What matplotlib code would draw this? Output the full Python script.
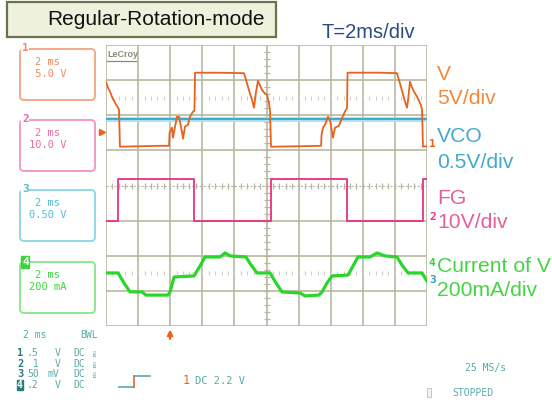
import matplotlib

matplotlib.use("Agg")
import matplotlib.pyplot as plt
import numpy as np
from matplotlib.patches import FancyBboxPatch, Rectangle

# Timebase / screen layout of the scope capture
T_PER_DIV = 2.0          # ms per division
N_XDIV, N_YDIV = 10, 8

# Channel 1: motor voltage V (5 V/div)
v_t = [0.00, 0.12, 0.25, 0.37, 0.56, 0.75, 0.81, 0.87, 2.12, 3.36, 3.93, 3.96, 4.11, 4.17,
       4.42, 4.55, 4.74, 4.80, 4.92, 5.11, 5.23, 5.42, 5.51, 5.55, 7.10, 8.60, 8.79, 8.97,
       9.10, 9.22, 9.35, 9.47, 9.60, 9.72, 9.85, 10.03, 10.16, 10.22, 10.28, 12.09, 13.40,
       13.43, 13.52, 13.65, 13.83, 13.96, 14.08, 14.14, 14.27, 14.39, 14.52, 14.64, 14.77,
       14.89, 15.02, 15.05, 17.07, 18.13, 18.32, 18.51, 18.63, 18.76, 18.82, 18.94, 19.07,
       19.19, 19.38, 19.50, 19.63, 19.69, 19.75, 20.00]
v_val = [9.33, 8.48, 7.91, 7.19, 6.34, 5.63, 5.34, 0.07, 0.14, 0.20, 0.20, 2.07, 2.78, 1.35,
         4.34, 4.34, 2.07, 1.21, 2.92, 3.21, 4.34, 5.06, 5.20, 10.61, 10.60, 10.54, 9.05, 7.62,
         6.77, 5.63, 7.91, 9.47, 8.76, 8.19, 7.76, 7.48, 6.20, 5.06, 0.07, 0.14, 0.20,
         1.78, 2.78, 3.21, 4.34, 3.78, 2.21, 1.35, 2.78, 2.92, 3.06, 3.78, 4.49,
         5.06, 5.63, 10.61, 10.61, 10.54, 9.05, 7.48, 6.48, 5.63, 6.77, 9.33, 8.48,
         7.91, 7.19, 6.62, 5.91, 5.34, 0.07, 0.14]

# Channel 2: FG signal (10 V/div)
fg_t = [0.00, 0.75, 0.75, 5.48, 5.48, 10.28, 10.28, 15.02, 15.02, 19.75, 19.75, 20.00]
fg_val = [0, 0, 12, 12, 0, 0, 12, 12, 0, 0, 12, 12]

# Channel 3: VCO (0.5 V/div)
vco_t = [0.0, 5.0, 10.0, 15.0, 20.0]
vco_val = [2.34, 2.34, 2.34, 2.34, 2.34]

# Channel 4: current of V (200 mA/div)
cur_t = [0.00, 0.75, 1.12, 1.50, 2.24, 2.49, 3.86, 3.99, 4.24, 5.48, 5.86, 6.17, 7.10, 7.42,
         7.73, 8.72, 9.04, 9.41, 10.22, 10.59, 10.97, 12.09, 12.40, 13.27, 13.46, 13.77,
         14.08, 15.08, 15.39, 15.70, 16.45, 16.89, 17.38, 18.13, 18.44, 18.82, 19.69, 20.00]
cur_val = [-34, -34, -91, -142, -142, -160, -160, -142, -57, -51, 6, 57, 57, 80,
           63, 57, 11, -34, -34, -91, -142, -148, -165, -160, -142, -91,
           -51, -46, 6, 57, 57, 80, 63, 57, 11, -34, -34, -80]

# (volts per div, ground offset in divs from the bottom, colour)
CH_V = (5.0, 5.09, "#e8621e")
CH_FG = (10.0, 2.99, "#e8327e")
CH_VCO = (0.5, 1.22, "#2aa2c6")
CH_CUR = (200.0, 1.68, "#2ad62a")

TRIG_LEVEL = 2.2   # V, on channel 1
TRIG_TIME = 3.99   # ms

GRID = "#b9b7a1"
TEAL = "#5aa9a9"
MONO = "DejaVu Sans Mono"
SANS = "Liberation Sans"


def to_div(vals, ch):
    scale, offset, _ = ch
    return np.asarray(vals, dtype=float) / scale + offset


fig = plt.figure(figsize=(5.52, 4.03), dpi=100)

# full-figure overlay in pixel units for the panel decorations
deco = fig.add_axes([0, 0, 1, 1])
deco.set_xlim(0, 552)
deco.set_ylim(403, 0)
deco.axis("off")

# title box
deco.add_patch(Rectangle((7, 2), 269, 35, facecolor="#eef2dc", edgecolor="#66764a", lw=1.6))
deco.text(156, 19.5, "Regular-Rotation-mode", fontsize=15, family=SANS, ha="center",
          va="center", color="#111111")
deco.text(322, 33, "T=2ms/div", fontsize=14.5, family=SANS, va="center", color="#2b4c80")

# channel boxes on the left
boxes = [
    (49, "1", "#f7a88a", "#f08a60", "2 ms", " 5.0 V"),
    (120, "2", "#f59ac4", "#ee6aa6", "2 ms", "10.0 V"),
    (190, "3", "#94d8e6", "#55bcd2", "2 ms", "0.50 V"),
    (262, "4", "#8fe88f", "#3ed23e", "2 ms", "200 mA"),
]
for top, num, edge, txt, l1, l2 in boxes:
    deco.add_patch(FancyBboxPatch((20, top), 75, 51, boxstyle="round,pad=0,rounding_size=4",
                                  facecolor="white", edgecolor=edge, lw=1.4))
    deco.text(35, top + 13, l1, fontsize=7.5, family=MONO, color=txt, va="center")
    deco.text(29, top + 25, l2, fontsize=7.5, family=MONO, color=txt, va="center")
    if num == "4":
        deco.text(22, top, num, fontsize=8, family=MONO, color="white", va="center",
                  fontweight="bold",
                  bbox=dict(boxstyle="square,pad=0.05", facecolor=txt, edgecolor=txt))
    else:
        deco.text(22, top - 1, num, fontsize=8, family=MONO, color=txt, va="center",
                  fontweight="bold",
                  bbox=dict(boxstyle="square,pad=0.05", facecolor="white", edgecolor="none"))

# right-hand legend labels
right_labels = [
    (75, "V", "#f08a3c"), (99, "5V/div", "#f08a3c"),
    (137, "VCO", "#45a8cc"), (162, "0.5V/div", "#45a8cc"),
    (198, "FG", "#e3609e"), (223, "10V/div", "#e3609e"),
    (266, "Current of V", "#45d445"), (290, "200mA/div", "#45d445"),
]
for y, s, c in right_labels:
    deco.text(437, y, s, fontsize=15.2, family=SANS, color=c, va="center")

# status lines below the grid
deco.text(23, 335, "2 ms", fontsize=7, family=MONO, color=TEAL, va="center")
deco.text(80, 335, "BWL", fontsize=7, family=MONO, color=TEAL, va="center")
rows = [("1", ".5", "V", "DC"), ("2", " 1", "V", "DC"), ("3", "50", "mV", "DC"), ("4", ".2", "V", "DC")]
for i, (n, val, unit, cpl) in enumerate(rows):
    y = 353 + i * 10.7
    if n == "4":
        deco.text(17, y, n, fontsize=7, family=MONO, color="white", fontweight="bold",
                  va="center", bbox=dict(boxstyle="square,pad=0.0", facecolor="#2a7c7c",
                                         edgecolor="#2a7c7c"))
    else:
        deco.text(17, y, n, fontsize=7.5, family=MONO, color="#2a7c7c", fontweight="bold",
                  va="center")
    deco.text(27, y, val, fontsize=7, family=MONO, color=TEAL, va="center")
    deco.text(48 if unit == "mV" else 55, y, unit, fontsize=7, family=MONO, color=TEAL, va="center")
    deco.text(73, y, cpl, fontsize=7, family=MONO, color=TEAL, va="center")
    if n != "4":
        deco.text(95, y, "1MΩ", fontsize=3.2, family=MONO, color=TEAL, va="center",
                  ha="center", rotation=90)

# trigger setup glyph
deco.plot([119, 134], [387, 387], color=TEAL, lw=1.2)
deco.plot([134, 134], [387, 376], color="#f0601a", lw=1.2)
deco.plot([134, 150], [376, 376], color=TEAL, lw=1.2)
deco.text(183, 381, "1", fontsize=8.5, family=MONO, color="#f0601a", va="center")
deco.text(195, 381, f"DC {TRIG_LEVEL} V", fontsize=7.5, family=MONO, color=TEAL, va="center")
deco.text(465, 368, "25 MS/s", fontsize=7, family=MONO, color=TEAL, va="center")
deco.add_patch(Rectangle((427, 388), 4, 9, facecolor="#f4f4f4", edgecolor="#c8c8c8", lw=0.8))
deco.text(452, 393, "STOPPED", fontsize=7, family=MONO, color=TEAL, va="center")

# scope graticule
ax = fig.add_axes([106 / 552, 1 - 326 / 403, 321 / 552, 281 / 403])
ax.set_xlim(0, N_XDIV * T_PER_DIV)
ax.set_ylim(0, N_YDIV)
ax.axis("off")
ax.patch.set_alpha(0)

for k in range(N_XDIV + 1):
    ax.axvline(k * T_PER_DIV, color=GRID, lw=1.2, zorder=1)
for k in range(N_YDIV + 1):
    if k == N_YDIV // 2:
        continue
    ax.axhline(k, color=GRID, lw=1.2, zorder=1)
ax.axhline(N_YDIV / 2, color=GRID, lw=0.8, ls=(0, (2, 1.5)), zorder=1)

# centre tick marks, every 1/5 division
mid_t = N_XDIV * T_PER_DIV / 2
yt = np.arange(0.2, N_YDIV, 0.2)
ax.plot(np.full(yt.size, mid_t), yt, ls="none", marker="_", ms=5, mew=0.9, color=GRID, zorder=1)
xt = np.arange(0.4, N_XDIV * T_PER_DIV, 0.4)
ax.plot(xt, np.full(xt.size, N_YDIV / 2), ls="none", marker="|", ms=5, mew=0.9, color=GRID, zorder=1)
for yd in (1.5, 6.5):
    ax.plot(xt, np.full(xt.size, yd), ls="none", marker="|", ms=2.5, mew=0.8, color="#d2d0c2",
            zorder=1)

ax.text(0.08, 7.72, "LeCroy", fontsize=6.5, family=SANS, fontweight="bold", color="#8a8a78",
        va="center")
ax.plot([0.08, 1.9], [7.54, 7.54], color="#8a8a78", lw=0.9)

# traces
ax.plot(vco_t, to_div(vco_val, CH_VCO), color="#ace0ec", lw=3.5, zorder=2)
ax.plot(vco_t, to_div(vco_val, CH_VCO), color=CH_VCO[2], lw=1.2, zorder=3)
ax.plot(fg_t, to_div(fg_val, CH_FG), color=CH_FG[2], lw=1.3, zorder=3)
ax.plot(v_t, to_div(v_val, CH_V), color=CH_V[2], lw=1.3, zorder=4)
ax.plot(cur_t, to_div(cur_val, CH_CUR), color=CH_CUR[2], lw=2.3, zorder=3)

# channel ground markers on the right edge
tmax = N_XDIV * T_PER_DIV
for ch, lab in ((CH_V, "1"), (CH_FG, "2"), (CH_CUR, "4"), (CH_VCO, "3")):
    ax.text(tmax + 0.12, ch[1] + 0.1, lab, fontsize=8, family=MONO, fontweight="bold",
            color=ch[2], va="center", clip_on=False)

# trigger level and position markers
ax.plot([-0.25], [TRIG_LEVEL / CH_V[0] + CH_V[1]], marker=">", ms=4, color="#f0601a",
        clip_on=False)
ax.annotate("", xy=(TRIG_TIME, -0.02), xytext=(TRIG_TIME, -0.45),
            arrowprops=dict(arrowstyle="-|>", color="#f0601a", lw=1.5, mutation_scale=8),
            annotation_clip=False)

fig.savefig("out.png", dpi=100)
